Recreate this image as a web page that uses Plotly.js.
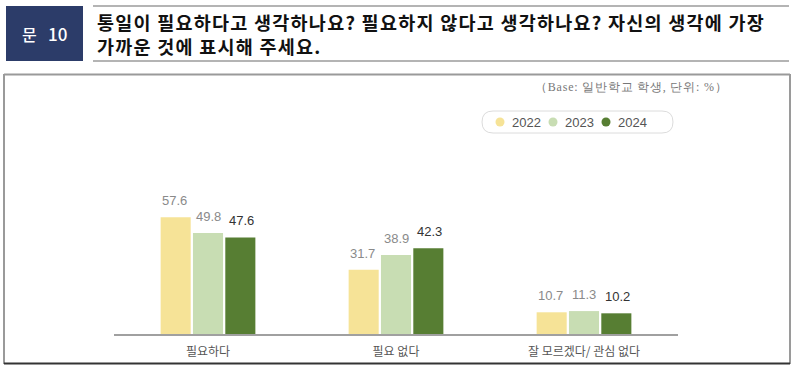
<!DOCTYPE html>
<html>
<head>
<meta charset="utf-8">
<script src="https://cdn.plot.ly/plotly-3.0.1.min.js"></script>
<style>html,body{margin:0;padding:0;background:#fff;}#chart{width:800px;height:374px;}</style>
</head>
<body>
<div id="chart"></div>
<script>
// ---- data ----
const categories = ['필요하다', '필요 없다', '잘 모르겠다/ 관심 없다'];
const years = ['2022', '2023', '2024'];
const values2022 = [57.6, 31.7, 10.7];
const values2023 = [49.8, 38.9, 11.3];
const values2024 = [47.6, 42.3, 10.2];
const seriesValues = [values2022, values2023, values2024];
const questionWord = '문';
const questionNum = '10';
const titleLine1 = '통일이 필요하다고 생각하나요? 필요하지 않다고 생각하나요? 자신의 생각에 가장';
const titleLine2 = '가까운 것에 표시해 주세요.';
const baseNote = '（Base: 일반학교 학생, 단위: %）';

// ---- styles ----
const barColors = ['#f6e397', '#c8ddb3', '#577e33'];
const labelColors = ['#8a8a8a', '#8a8a8a', '#333333'];
const labelShift = [-33.5, 0, 33.5];

// plot area in pixels
const W = 800, H = 374;
const L = 114, R = 678, T = 192, B = 334;
const X = px => (px - L) / (R - L);
const Y = py => (B - py) / (B - T);

const sansKR = 'Noto Sans CJK KR, Noto Sans, sans-serif';
const latin = 'Liberation Sans, Arial, sans-serif';

const traces = seriesValues.map((vals, i) => ({
  type: 'bar',
  name: years[i],
  x: categories,
  y: vals,
  marker: {color: barColors[i], line: {width: 0}},
  hoverinfo: 'skip',
  showlegend: false
}));

const annotations = [];
// value labels
seriesValues.forEach((vals, i) => {
  vals.forEach((v, j) => {
    annotations.push({
      xref: 'x', yref: 'y', x: categories[j], y: v,
      text: v.toFixed(1), showarrow: false,
      xanchor: 'center', yanchor: 'bottom',
      xshift: labelShift[i], yshift: 7,
      font: {family: latin, size: 13, color: labelColors[i]}
    });
  });
});
// header
annotations.push({xref: 'paper', yref: 'paper', x: X(29), y: Y(33.5), text: questionWord,
  showarrow: false, xanchor: 'center', yanchor: 'middle',
  font: {family: sansKR, size: 16, color: '#ffffff', weight: 500}});
annotations.push({xref: 'paper', yref: 'paper', x: X(57.5), y: Y(33.5), text: questionNum,
  showarrow: false, xanchor: 'center', yanchor: 'middle',
  font: {family: sansKR, size: 17, color: '#ffffff', weight: 500}});
annotations.push({xref: 'paper', yref: 'paper', x: X(96), y: Y(33.5),
  text: '<b>' + titleLine1 + '</b><br><b>' + titleLine2 + '</b>',
  showarrow: false, xanchor: 'left', yanchor: 'middle', align: 'left',
  font: {family: sansKR, size: 18.5, color: '#111111'}});
annotations.push({xref: 'paper', yref: 'paper', x: X(535), y: Y(87), text: baseNote,
  showarrow: false, xanchor: 'left', yanchor: 'middle',
  font: {family: 'Liberation Serif, DejaVu Serif, serif', size: 12, color: '#777777'}});

// legend (custom pill)
const legendCircleX = [500, 553, 606];
years.forEach((yr, i) => {
  annotations.push({xref: 'paper', yref: 'paper', x: X(legendCircleX[i] + 9.5), y: Y(122), text: yr,
    showarrow: false, xanchor: 'left', yanchor: 'middle',
    font: {family: latin, size: 13, color: '#555555'}});
});

const shapes = [];
// navy box
shapes.push({type: 'rect', xref: 'paper', yref: 'paper', x0: X(6), x1: X(83), y0: Y(6), y1: Y(61),
  fillcolor: '#2c3c69', line: {width: 0}, layer: 'below'});
// header lines
shapes.push({type: 'line', xref: 'paper', yref: 'paper', x0: X(93), x1: X(789), y0: Y(6), y1: Y(6),
  line: {color: '#b4b4b4', width: 2}});
shapes.push({type: 'line', xref: 'paper', yref: 'paper', x0: X(93), x1: X(789), y0: Y(61), y1: Y(61),
  line: {color: '#b4b4b4', width: 2}});
// frame
shapes.push({type: 'line', xref: 'paper', yref: 'paper', x0: X(4), x1: X(790), y0: Y(74.5), y1: Y(74.5),
  line: {color: '#9a9a9a', width: 2}});
shapes.push({type: 'line', xref: 'paper', yref: 'paper', x0: X(4), x1: X(4), y0: Y(74), y1: Y(364),
  line: {color: '#9a9a9a', width: 2}});
shapes.push({type: 'line', xref: 'paper', yref: 'paper', x0: X(790), x1: X(790), y0: Y(74), y1: Y(364),
  line: {color: '#9a9a9a', width: 2}});
shapes.push({type: 'line', xref: 'paper', yref: 'paper', x0: X(4), x1: X(790), y0: Y(363.5), y1: Y(363.5),
  line: {color: '#333333', width: 2}});
// legend pill
(function () {
  const x0 = 482, x1 = 673, y0 = 111, y1 = 133, r = 11;
  const p = (x, y) => X(x) + ',' + Y(y);
  const path = 'M' + p(x0 + r, y0) + ' L' + p(x1 - r, y0) + ' Q' + p(x1, y0) + ' ' + p(x1, y0 + r) +
    ' Q' + p(x1, y1) + ' ' + p(x1 - r, y1) + ' L' + p(x0 + r, y1) + ' Q' + p(x0, y1) + ' ' + p(x0, y1 - r) +
    ' Q' + p(x0, y0) + ' ' + p(x0 + r, y0) + ' Z';
  shapes.push({type: 'path', xref: 'paper', yref: 'paper', path: path,
    line: {color: '#dcdcdc', width: 1}, fillcolor: 'rgba(0,0,0,0)'});
})();
years.forEach((yr, i) => {
  const cx = legendCircleX[i], cy = 122, rr = 4.5;
  shapes.push({type: 'circle', xref: 'paper', yref: 'paper', x0: X(cx - rr), x1: X(cx + rr),
    y0: Y(cy + rr), y1: Y(cy - rr), fillcolor: barColors[i], line: {width: 0}});
});

const layout = {
  width: W, height: H,
  margin: {l: L, r: W - R, t: T, b: H - B, pad: 0},
  paper_bgcolor: '#ffffff', plot_bgcolor: '#ffffff',
  barmode: 'group', bargap: 0.484, bargroupgap: 0.07,
  showlegend: false,
  xaxis: {
    type: 'category', range: [-0.5, 2.5], fixedrange: true,
    showline: true, linecolor: '#a0a0a0', linewidth: 1.5,
    ticks: '', showgrid: false, zeroline: false,
    ticklabelstandoff: 6,
    tickfont: {family: sansKR, size: 12, color: '#555555'}
  },
  yaxis: {range: [0, 70], visible: false, showgrid: false, zeroline: false, fixedrange: true},
  annotations: annotations,
  shapes: shapes
};

// letter spacing for header texts, keeping their left edge in place
const spacedTexts = [
  {text: titleLine1 + titleLine2, spacing: 1.25, left: 97},
  {text: baseNote, spacing: 0.8, left: 535}
];

Plotly.newPlot('chart', traces, layout, {displayModeBar: false, staticPlot: true}).then(() => {
  const host = document.getElementById('chart').getBoundingClientRect();
  document.querySelectorAll('.annotation-text').forEach(el => {
    const spec = spacedTexts.find(s => s.text === el.textContent);
    if (!spec) return;
    el.style.letterSpacing = spec.spacing + 'px';
    const box = el.getBoundingClientRect();
    const delta = spec.left - (box.left - host.left);
    const prev = el.getAttribute('transform') || '';
    el.setAttribute('transform', 'translate(' + delta + ',0) ' + prev);
  });
});
</script>
</body>
</html>
